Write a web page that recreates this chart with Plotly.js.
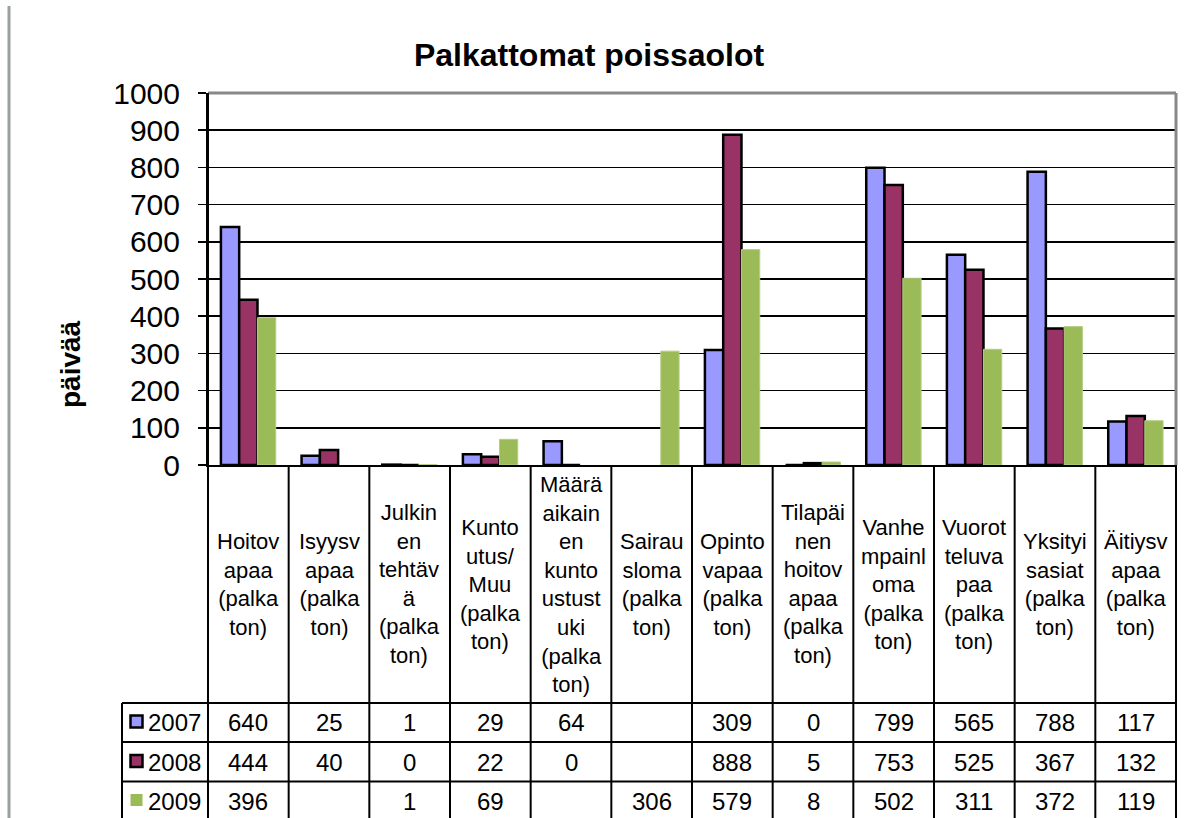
<!DOCTYPE html>
<html>
<head>
<meta charset="utf-8">
<script src="https://cdn.plot.ly/plotly-3.0.1.min.js"></script>
<style>html,body{margin:0;padding:0;background:#fff;}#chart{width:1190px;height:818px;}</style>
</head>
<body>
<div id="chart"></div>
<script>
const categories = [
  "Hoitovapaa (palkaton)", "Isyysvapaa (palkaton)", "Julkinen tehtävä (palkaton)",
  "Kuntoutus/Muu (palkaton)", "Määräaikainen kuntoustustuki (palkaton)", "Sairausloma (palkaton)",
  "Opintovapaa (palkaton)", "Tilapäinen hoitovapaa (palkaton)", "Vanhempainloma (palkaton)",
  "Vuorotteluvapaa (palkaton)", "Yksityisasiat (palkaton)", "Äitiysvapaa (palkaton)"
];
const categoryLabels = [
  "Hoitov<br>apaa<br>(palka<br>ton)",
  "Isyysv<br>apaa<br>(palka<br>ton)",
  "Julkin<br>en<br>tehtäv<br>ä<br>(palka<br>ton)",
  "Kunto<br>utus/<br>Muu<br>(palka<br>ton)",
  "Määrä<br>aikain<br>en<br>kunto<br>ustust<br>uki<br>(palka<br>ton)",
  "Sairau<br>sloma<br>(palka<br>ton)",
  "Opinto<br>vapaa<br>(palka<br>ton)",
  "Tilapäi<br>nen<br>hoitov<br>apaa<br>(palka<br>ton)",
  "Vanhe<br>mpainl<br>oma<br>(palka<br>ton)",
  "Vuorot<br>teluva<br>paa<br>(palka<br>ton)",
  "Yksityi<br>sasiat<br>(palka<br>ton)",
  "Äitiysv<br>apaa<br>(palka<br>ton)"
];
const seriesNames = ["2007", "2008", "2009"];
const values2007 = [640, 25, 1, 29, 64, null, 309, 0, 799, 565, 788, 117];
const values2008 = [444, 40, 0, 22, 0, null, 888, 5, 753, 525, 367, 132];
const values2009 = [396, null, 1, 69, null, 306, 579, 8, 502, 311, 372, 119];
const yTicks = [0, 100, 200, 300, 400, 500, 600, 700, 800, 900, 1000];

const FONT = "Liberation Sans, Arial, sans-serif";
const colors = ["#9999FF", "#993366", "#9BBB59"];
const borders = [{color: "#000", width: 2.5}, {color: "#000", width: 2.5}, {color: "#B5CC84", width: 1}];
const allValues = [values2007, values2008, values2009];

const traces = allValues.map((vals, i) => ({
  type: "bar",
  name: seriesNames[i],
  x: categories,
  y: vals,
  marker: {color: colors[i], line: borders[i]},
  hoverinfo: "x+y+name"
}));

// pixel layout helpers (plot area: x 208..1176, y 93..465)
const plotH = 372, plotW = 968;
const py = (pix) => (465 - pix) / plotH;
const px = (pix) => (pix - 208) / plotW;

const rowLines = [703, 742, 781.5, 821];
const rowCenters = [722.5, 762, 801];
const bottom = py(823);

const shapes = [];
shapes.push({type: "line", xref: "paper", yref: "paper", x0: px(9), x1: px(9), y0: py(6), y1: bottom, line: {color: "#9aa0a0", width: 3}});
shapes.push({type: "line", xref: "paper", yref: "paper", x0: 0, x1: 1, y0: 1, y1: 1, line: {color: "#888", width: 3}});
shapes.push({type: "line", xref: "paper", yref: "paper", x0: 1, x1: 1, y0: 0, y1: 1, line: {color: "#888", width: 3}});
shapes.push({type: "line", xref: "paper", yref: "paper", x0: 0, x1: 0, y0: 1, y1: bottom, line: {color: "#000", width: 2}});
shapes.push({type: "line", xref: "paper", yref: "paper", x0: 1, x1: 1, y0: 0, y1: bottom, line: {color: "#000", width: 2}});
for (let i = 1; i < categories.length; i++) {
  shapes.push({type: "line", xref: "x", yref: "paper", x0: i - 0.5, x1: i - 0.5, y0: 0, y1: bottom, line: {color: "#000", width: 2}});
}
shapes.push({type: "line", xref: "paper", yref: "paper", x0: px(122), x1: px(122), y0: py(rowLines[0]), y1: bottom, line: {color: "#000", width: 2}});
rowLines.forEach(r => {
  shapes.push({type: "line", xref: "paper", yref: "paper", x0: px(122), x1: 1, y0: py(r), y1: py(r), line: {color: "#000", width: 2}});
});
seriesNames.forEach((s, i) => {
  shapes.push({
    type: "rect", xref: "paper", yref: "paper",
    xsizemode: "pixel", ysizemode: "pixel",
    xanchor: px(136.5), yanchor: py(rowCenters[i] - 1),
    x0: -6, x1: 6, y0: -6, y1: 6,
    fillcolor: colors[i],
    line: i < 2 ? {color: "#000", width: 2.5} : {color: colors[i], width: 0}
  });
});

const annotations = [];
categories.forEach((c, i) => {
  annotations.push({
    xref: "x", yref: "paper", x: c, y: py(584),
    text: categoryLabels[i], showarrow: false,
    xanchor: "center", yanchor: "middle", align: "center",
    font: {family: FONT, size: 22, color: "#000"}
  });
});
allValues.forEach((vals, r) => {
  annotations.push({
    xref: "paper", yref: "paper", x: px(146), y: py(rowCenters[r]),
    text: seriesNames[r], showarrow: false, xanchor: "left", yanchor: "middle",
    font: {family: FONT, size: 24, color: "#000"}
  });
  vals.forEach((v, i) => {
    if (v === null) return;
    annotations.push({
      xref: "x", yref: "paper", x: categories[i], y: py(rowCenters[r]),
      text: String(v), showarrow: false, xanchor: "center", yanchor: "middle",
      font: {family: FONT, size: 24, color: "#000"}
    });
  });
});
annotations.push({
  xref: "paper", yref: "paper", x: px(70), y: py(364),
  text: "<b>päivää</b>", showarrow: false, textangle: -90,
  xanchor: "center", yanchor: "middle",
  font: {family: FONT, size: 28, color: "#000"}
});

const layout = {
  width: 1190, height: 818,
  margin: {l: 208, r: 14, t: 93, b: 353, pad: 0},
  paper_bgcolor: "#fff", plot_bgcolor: "#fff",
  showlegend: false,
  barmode: "group", bargap: 0.32, bargroupgap: 0,
  title: {
    text: "<b>Palkattomat poissaolot</b>",
    xref: "container", x: 0.495, xanchor: "center",
    yref: "container", y: 1 - 55 / 818, yanchor: "middle",
    font: {family: FONT, size: 32, color: "#000"}
  },
  xaxis: {
    type: "category", range: [-0.5, 11.5],
    showticklabels: false, ticks: "",
    showgrid: false, showline: true, linecolor: "#000", linewidth: 2,
    fixedrange: true
  },
  yaxis: {
    range: [0, 1000], tickvals: yTicks, ticktext: yTicks.map(String),
    showgrid: true, gridcolor: "#000", gridwidth: 1.5,
    zeroline: false, showline: true, linecolor: "#000", linewidth: 2,
    ticks: "outside", ticklen: 8, tickwidth: 1.5, tickcolor: "#000",
    ticklabelstandoff: 12,
    tickfont: {family: FONT, size: 30, color: "#000"},
    fixedrange: true
  },
  shapes: shapes,
  annotations: annotations
};

Plotly.newPlot("chart", traces, layout, {displayModeBar: false, staticPlot: true});
</script>
</body>
</html>
